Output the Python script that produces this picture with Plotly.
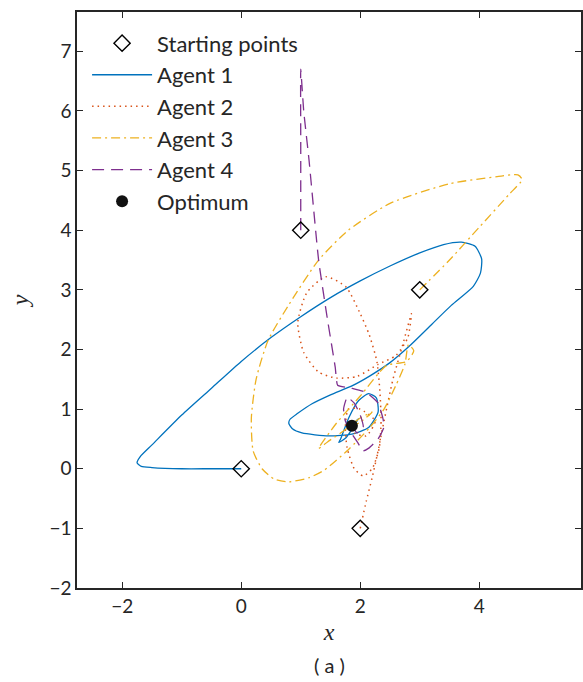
import plotly.graph_objects as go

# Starting points and optimum
start_x = [0, 2, 3, 1]
start_y = [0, -1, 3, 4]
opt_x = [1.86]
opt_y = [0.72]

# Agent trajectories
a1_x = [0, -0.5, -1.0, -1.5, -1.68, -1.75, -1.7, -1.5, -1.0, -0.5, 0.0, 0.5, 1.0, 1.5, 2.0, 2.5, 3.0,
        3.4, 3.7, 3.93, 4.04, 4.02, 3.9, 3.53, 3.2, 2.85, 2.5, 2.15, 1.86, 1.5, 1.19, 0.95, 0.82, 0.8, 0.86,
        1.02, 1.47, 1.86, 2.14, 2.3, 2.27, 2.14, 1.97, 1.81, 1.67, 1.64, 1.76, 1.97, 1.86]
a1_y = [0, 0.0, 0.0, 0.02, 0.04, 0.1, 0.2, 0.4, 0.9, 1.35, 1.8, 2.2, 2.55, 2.87, 3.15, 3.4, 3.62,
        3.76, 3.8, 3.73, 3.52, 3.28, 3.06, 2.74, 2.42, 2.08, 1.78, 1.55, 1.39, 1.24, 1.09, 0.93, 0.83, 0.76, 0.67,
        0.6, 0.55, 0.58, 0.69, 0.95, 1.19, 1.26, 1.14, 0.86, 0.5, 0.44, 0.52, 0.84, 0.72]

a2_x = [2, 2.1, 2.2, 2.3, 2.4, 2.55, 2.72, 2.86, 2.8, 2.6, 2.3, 1.95, 1.6, 1.3, 1.05, 0.95, 1.1, 1.42,
        1.76, 2.0, 2.15, 2.28, 2.33, 2.35, 2.32, 2.2, 2.05, 1.9, 1.78, 1.75, 1.8, 2.0, 2.25, 2.1, 1.9, 1.86]
a2_y = [-1, -0.55, -0.15, 0.3, 0.8, 1.5, 2.1, 2.6, 2.2, 1.9, 1.75, 1.55, 1.52, 1.62, 1.95, 2.45, 2.95, 3.22,
        3.05, 2.6, 2.25, 1.8, 1.3, 0.8, 0.35, 0.0, -0.12, 0.0, 0.35, 0.7, 1.0, 1.0, 0.8, 0.55, 0.6, 0.72]

a3_x = [3, 3.5, 4.0, 4.5, 4.72, 4.65, 4.3, 3.5, 2.5, 1.8, 1.3, 0.8, 0.45, 0.25, 0.17, 0.2, 0.35, 0.55,
        0.8, 1.14, 1.4, 1.8, 2.15, 2.4, 2.6, 2.75, 2.81, 2.9, 2.78, 2.44, 2.0, 1.59, 1.3, 1.45, 1.7, 2.0,
        2.2, 2.0, 1.86]
a3_y = [3, 3.5, 4.05, 4.6, 4.85, 4.93, 4.9, 4.78, 4.45, 4.0, 3.5, 2.75, 2.15, 1.5, 0.85, 0.3, 0.0, -0.17,
        -0.22, -0.15, -0.02, 0.32, 0.68, 1.0, 1.4, 1.75, 2.08, 1.98, 1.8, 1.73, 1.22, 0.75, 0.34, 0.45, 0.62,
        0.85, 0.95, 0.78, 0.72]

a4_x = [1, 1.0, 1.0, 1.05, 1.14, 1.3, 1.45, 1.58, 1.62, 1.85, 2.1, 2.3, 2.38, 2.4, 2.3, 2.15, 2.05,
        1.95, 1.85, 1.75, 1.72, 1.78, 1.9, 2.0, 2.05, 1.95, 1.86]
a4_y = [4, 5.5, 6.7, 6.0, 5.17, 3.5, 2.5, 1.7, 1.4, 1.35, 1.28, 1.1, 0.85, 0.7, 0.5, 0.35, 0.3,
        0.45, 0.6, 0.8, 1.0, 1.2, 1.1, 0.9, 0.7, 0.6, 0.72]

x_ticks = [-2, 0, 2, 4]
y_ticks = [-2, -1, 0, 1, 2, 3, 4, 5, 6, 7]

FONT = "Lato"
TXT = "#262626"
LW = 1.3

fig = go.Figure()
fig.add_trace(go.Scatter(x=a1_x, y=a1_y, mode="lines", name="Agent 1", legendrank=2,
                         line=dict(color="#0072BD", width=LW, shape="spline", smoothing=0.6)))
fig.add_trace(go.Scatter(x=a2_x, y=a2_y, mode="lines", name="Agent 2", legendrank=3,
                         line=dict(color="#D95319", width=1.5, dash="1.5px,4px", shape="spline",
                                   smoothing=0.6)))
fig.add_trace(go.Scatter(x=a3_x, y=a3_y, mode="lines", name="Agent 3", legendrank=4,
                         line=dict(color="#EDB120", width=LW, dash="9px,4px,2px,4px", shape="spline",
                                   smoothing=0.6)))
fig.add_trace(go.Scatter(x=a4_x, y=a4_y, mode="lines", name="Agent 4", legendrank=5,
                         line=dict(color="#7E2F8E", width=LW, dash="12px,7px", shape="spline",
                                   smoothing=0.4)))
fig.add_trace(go.Scatter(x=start_x, y=start_y, mode="markers", name="Starting points", legendrank=1,
                         marker=dict(symbol="diamond-open", size=12.5, color="black",
                                     line=dict(width=1.4, color="black"))))
fig.add_trace(go.Scatter(x=opt_x, y=opt_y, mode="markers", name="Optimum", legendrank=6,
                         marker=dict(symbol="circle", size=12, color="#111111")))

axis_common = dict(showgrid=False, zeroline=False, linecolor=TXT, linewidth=1.5, showline=True,
                   mirror="ticks", ticks="inside", ticklen=6, tickwidth=1.2, tickcolor=TXT,
                   tickfont=dict(family=FONT, size=19, color=TXT))

fig.update_layout(
    width=583, height=682,
    margin=dict(l=77, r=0, t=12, b=94),
    paper_bgcolor="white", plot_bgcolor="white",
    font=dict(family=FONT, color=TXT),
    xaxis=dict(range=[-2.76, 5.71], tickvals=x_ticks, **axis_common,
               title=dict(text="<i>x</i>", font=dict(family="Liberation Serif", size=24, color=TXT),
                          standoff=8)),
    yaxis=dict(range=[-2.0, 7.66], tickvals=y_ticks, **axis_common,
               title=dict(text="<i>y</i>", font=dict(family="Liberation Serif", size=24, color=TXT),
                          standoff=14)),
    legend=dict(x=0.02, y=0.982, xanchor="left", yanchor="top", bgcolor="rgba(0,0,0,0)",
                font=dict(family=FONT, size=22, color=TXT), itemwidth=60, traceorder="normal"),
    annotations=[dict(text="( a )", x=0.5, y=-0.134, xref="paper", yref="paper", showarrow=False,
                      xanchor="center", yanchor="middle",
                      font=dict(family=FONT, size=20, color=TXT))],
)

fig.write_html("out.html")
